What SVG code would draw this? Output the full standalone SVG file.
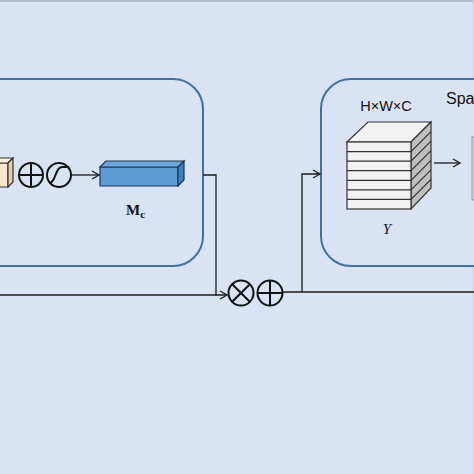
<svg xmlns="http://www.w3.org/2000/svg" width="474" height="474" viewBox="0 0 474 474">
<defs>
<style>
.box{fill:#dae3f3;stroke:#41719c;stroke-width:2}
.ln{fill:none;stroke:#1a1a1a;stroke-width:1.3}
.op{fill:none;stroke:#111;stroke-width:2}
.cb{stroke:#333;stroke-width:1.2}
.t{font-family:"Liberation Sans",Arial,sans-serif;fill:#111}
</style>
<marker id="ah" markerWidth="10" markerHeight="10" refX="8" refY="5" orient="auto" markerUnits="userSpaceOnUse">
<path d="M1,1 L8,5 L1,9" fill="none" stroke="#1a1a1a" stroke-width="1.3"/>
</marker>
</defs>
<rect x="0" y="0" width="474" height="474" fill="#dae3f3"/>
<rect x="0" y="0" width="474" height="2" fill="#b4bccb"/>
<rect x="473" y="0" width="1" height="474" fill="#c9d3e6"/>

<g id="channel-box">
<rect class="box" x="-40" y="79" width="243" height="187" rx="30"/>
</g>
<g id="spatial-box">
<rect class="box" x="321" y="79" width="200" height="187" rx="30"/>
<text class="t" x="446" y="104" font-size="16">Spa</text>
</g>

<g id="tan-cube">
<polygon points="-10,163 8,163 8,187 -10,187" fill="#fbe5cc" stroke="#333" stroke-width="1.2"/>
<polygon points="-10,163 -5,158 13,158 8,163" fill="#fdf0e0" stroke="#333" stroke-width="1.2"/>
<polygon points="8,163 13,158 13,182 8,187" fill="#e6cda9" stroke="#333" stroke-width="1.2"/>
</g>

<g id="add1">
<circle class="op" cx="31" cy="175" r="12"/>
<path class="op" d="M19,175 H43 M31,163 V187"/>
</g>
<g id="sigmoid">
<circle class="op" cx="59" cy="175" r="12"/>
<path class="op" d="M49,183 C56,183 55,167 62,167 C64,167 66,167 69,167" stroke-width="1.8"/>
</g>

<g id="mc">
<polygon points="100,167 178,167 178,186 100,186" fill="#5b9bd5" stroke="#1f3654" stroke-width="1.2"/>
<polygon points="100,167 106,161 184,161 178,167" fill="#6aa6dc" stroke="#1f3654" stroke-width="1.2"/>
<polygon points="178,167 184,161 184,180 178,186" fill="#3f7fbf" stroke="#1f3654" stroke-width="1.2"/>
<text x="126" y="215" font-family="Liberation Serif,Times New Roman,serif" font-weight="bold" font-size="15" fill="#111">M<tspan font-size="11" dy="3">c</tspan></text>
</g>

<g id="y-cube">
<polygon class="cb" points="347,142 368,122 431,122 411,142" fill="#f2f2f2"/>
<polygon class="cb" points="411,142 431,122 431,188 411,209" fill="#bfbfbf"/>
<rect class="cb" x="347" y="142" width="64" height="67" fill="#f2f2f2"/>
<path class="cb" fill="none" d="M347,151.6 H411 L431,131.6 M347,161.1 H411 L431,141.1 M347,170.7 H411 L431,150.7 M347,180.3 H411 L431,160.3 M347,189.9 H411 L431,169.9 M347,199.4 H411 L431,179.4"/>
<text class="t" x="386" y="111" font-size="14.5" text-anchor="middle">H×W×C</text>
<text x="387" y="234" font-family="Liberation Serif,Times New Roman,serif" font-style="italic" font-size="15" fill="#111" text-anchor="middle">Y</text>
</g>

<g id="gray-map">
<rect x="472" y="137" width="10" height="63" fill="#d0d0d0" stroke="#999" stroke-width="1"/>
</g>

<g id="mul">
<circle class="op" cx="241" cy="293" r="12.5"/>
<path class="op" d="M232.2,284.2 L249.8,301.8 M249.8,284.2 L232.2,301.8"/>
</g>
<g id="add2">
<circle class="op" cx="270" cy="293" r="12.5"/>
<path class="op" d="M257.5,293 H282.5 M270,280.5 V305.5"/>
</g>

<g id="connectors">
<path class="ln" d="M71,175 H99" marker-end="url(#ah)"/>
<path class="ln" d="M203,175 H216 V295 H227" marker-end="url(#ah)"/>
<path class="ln" d="M0,295 H216"/>
<path class="ln" d="M283,292 H474"/>
<path class="ln" d="M302,292 V174 H320" marker-end="url(#ah)"/>
<path class="ln" d="M434,163 H460" marker-end="url(#ah)"/>
</g>
</svg>
